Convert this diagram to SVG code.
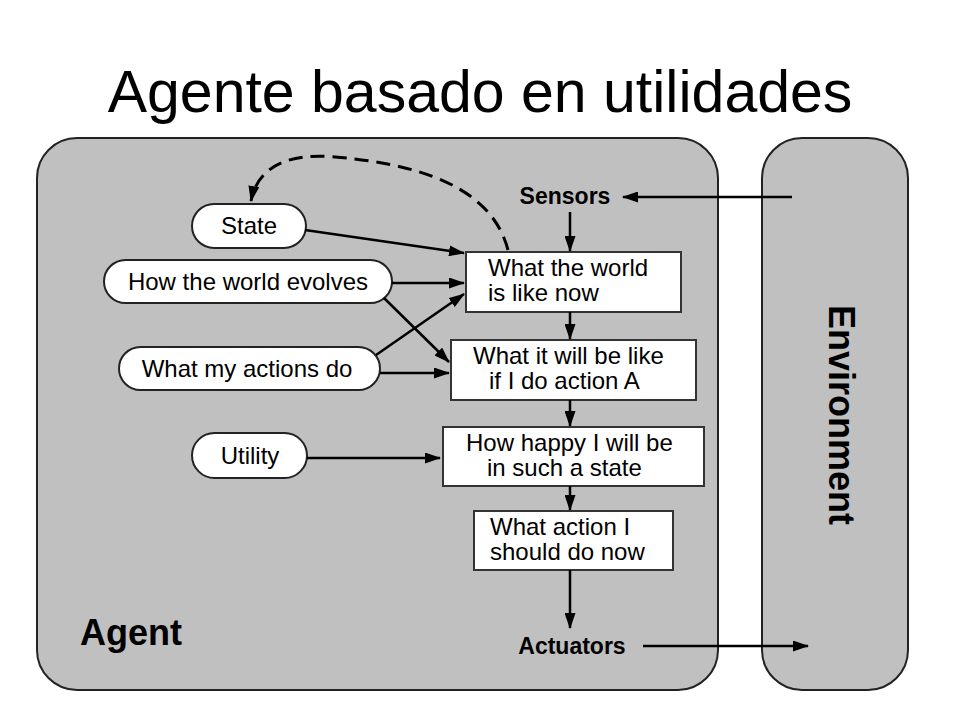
<svg xmlns="http://www.w3.org/2000/svg" width="960" height="720" viewBox="0 0 960 720">
<defs>
<marker id="ah" viewBox="0 0 16 11" refX="15" refY="5.5" markerWidth="16" markerHeight="11" markerUnits="userSpaceOnUse" orient="auto">
<path d="M0,0 L16,5.5 L0,11 Z" fill="#000"/>
</marker>
<style>
.frame{fill:#c0c0c0;stroke:#222;stroke-width:2}
.pill{fill:#fff;stroke:#222;stroke-width:2}
.box{fill:#fff;stroke:#333;stroke-width:2}
.t{font-family:"Liberation Sans",Arial,sans-serif;font-size:24px;fill:#000}
.b{font-family:"Liberation Sans",Arial,sans-serif;font-weight:bold;fill:#000}
.c{stroke:#000;stroke-width:2.5;fill:none;marker-end:url(#ah)}
.d{stroke:#000;stroke-width:3;fill:none;stroke-dasharray:14 8;marker-end:url(#ah)}
</style>
</defs>
<rect width="960" height="720" fill="#fff"/>
<text x="480" y="112" text-anchor="middle" font-family="Liberation Sans, Arial, sans-serif" font-size="59" fill="#000">Agente basado en utilidades</text>

<g id="agent">
<rect class="frame" x="37" y="138" width="681" height="552" rx="40" ry="40"/>
<text class="b" x="80" y="645" font-size="36">Agent</text>
</g>
<g id="environment">
<rect class="frame" x="762" y="138" width="146" height="552" rx="40" ry="40"/>
<text class="b" font-size="36" text-anchor="middle" transform="translate(829,415) rotate(90)">Environment</text>
</g>

<g id="sensors"><text class="b" x="565" y="204" font-size="23" text-anchor="middle">Sensors</text></g>
<g id="actuators"><text class="b" x="572" y="654" font-size="23" text-anchor="middle">Actuators</text></g>

<g id="state"><rect class="pill" x="192" y="204" width="114" height="44" rx="22"/><text class="t" x="249" y="234" text-anchor="middle">State</text></g>
<g id="evolves"><rect class="pill" x="104" y="260" width="288" height="43" rx="21.5"/><text class="t" x="248" y="290" text-anchor="middle">How the world evolves</text></g>
<g id="actions"><rect class="pill" x="119" y="347" width="261" height="43" rx="21.5"/><text class="t" x="247" y="377" text-anchor="middle">What my actions do</text></g>
<g id="utility"><rect class="pill" x="192" y="433" width="115" height="45" rx="22.5"/><text class="t" x="250" y="464" text-anchor="middle">Utility</text></g>

<g id="world-now"><rect class="box" x="466" y="252" width="215" height="60"/><text class="t" x="488" y="276">What the world</text><text class="t" x="488" y="301">is like now</text></g>
<g id="will-be"><rect class="box" x="451" y="340" width="245" height="60"/><text class="t" x="473" y="364">What it will be like</text><text class="t" x="489" y="389">if I do action A</text></g>
<g id="happy"><rect class="box" x="443" y="427" width="261" height="59"/><text class="t" x="466" y="451">How happy I will be</text><text class="t" x="487" y="476">in such a state</text></g>
<g id="action"><rect class="box" x="474" y="511" width="199" height="59"/><text class="t" x="490" y="535">What action I</text><text class="t" x="490" y="560">should do now</text></g>

<g id="connectors">
<path class="c" d="M792,197 L623,197"/>
<path class="c" d="M570,212 L570,251"/>
<path class="c" d="M570,312 L570,339"/>
<path class="c" d="M570,400 L570,426"/>
<path class="c" d="M570,486 L570,510"/>
<path class="c" d="M570,570 L570,628"/>
<path class="c" d="M643,646 L808,646"/>
<path class="c" d="M305,230 L464,253"/>
<path class="c" d="M392,283 L464,283"/>
<path class="c" d="M384,298 L449,362"/>
<path class="c" d="M376,355 L464,294"/>
<path class="c" d="M380,373 L449,373"/>
<path class="c" d="M307,458 L440,458"/>
<path class="d" d="M508,250 C495,200 445,166 335,157 C290,153 258,165 251,201"/>
</g>
</svg>
